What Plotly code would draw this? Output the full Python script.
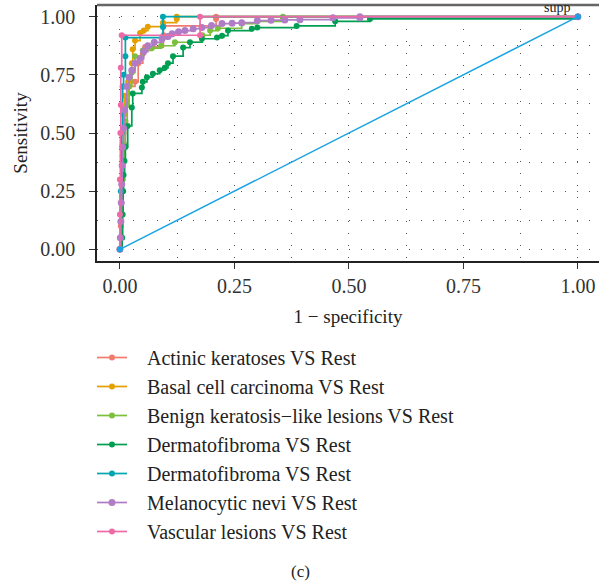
import plotly.graph_objects as go

names = ["Actinic keratoses VS Rest", "Basal cell carcinoma VS Rest",
         "Benign keratosis\u2212like lesions VS Rest", "Dermatofibroma VS Rest",
         "Dermatofibroma VS Rest", "Melanocytic nevi VS Rest", "Vascular lesions VS Rest"]
colors = ["#F27B6E", "#E69F00", "#7CBF3C", "#009E52", "#00A6B0", "#B07CC6", "#EE6AA7"]

ak_fpr = [0, 0.002, 0.004, 0.006, 0.008, 0.01, 0.015, 0.02, 0.033, 0.04, 0.05, 0.055, 0.095, 0.095, 0.21, 0.21, 1.0]
ak_tpr = [0, 0.1, 0.25, 0.4, 0.5, 0.58, 0.64, 0.7, 0.72, 0.8, 0.84, 0.87, 0.92, 0.96, 0.99, 1.0, 1.0]

bcc_fpr = [0, 0.002, 0.004, 0.006, 0.008, 0.011, 0.018, 0.026, 0.028, 0.033, 0.044, 0.052, 0.061, 0.094, 0.124, 0.124, 1.0]
bcc_tpr = [0, 0.15, 0.3, 0.45, 0.58, 0.66, 0.72, 0.80, 0.86, 0.897, 0.93, 0.94, 0.957, 0.974, 0.99, 1.0, 1.0]

bkl_fpr = [0, 0.003, 0.006, 0.01, 0.012, 0.016, 0.02, 0.026, 0.033, 0.05, 0.07, 0.09, 0.12, 0.18, 0.197, 0.214, 0.266, 0.30, 0.356, 0.356, 1.0]
bkl_tpr = [0, 0.15, 0.3, 0.45, 0.55, 0.62, 0.7, 0.76, 0.83, 0.855, 0.865, 0.875, 0.89, 0.92, 0.94, 0.95, 0.97, 0.98, 0.995, 1.0, 1.0]

df_fpr = [0, 0.005, 0.006, 0.007, 0.008, 0.01, 0.012, 0.017, 0.026, 0.028, 0.048, 0.05, 0.059, 0.072, 0.087,
          0.098, 0.105, 0.116, 0.138, 0.153, 0.179, 0.212, 0.223, 0.236, 0.288, 0.30, 0.386, 0.47, 0.546, 1.0]
df_tpr = [0, 0.05, 0.15, 0.25, 0.32, 0.38, 0.44, 0.53, 0.61, 0.67, 0.695, 0.72, 0.74, 0.755, 0.77,
          0.78, 0.80, 0.83, 0.867, 0.89, 0.905, 0.91, 0.918, 0.94, 0.948, 0.953, 0.96, 0.98, 0.99, 1.0]

df2_fpr = [0, 0.002, 0.004, 0.006, 0.008, 0.012, 0.012, 0.094, 0.094, 1.0]
df2_tpr = [0, 0.25, 0.5, 0.7, 0.75, 0.83, 0.91, 0.955, 1.0, 1.0]

nv_fpr = [0, 0.001, 0.002, 0.003, 0.004, 0.005, 0.006, 0.008, 0.01, 0.015, 0.02, 0.026, 0.033, 0.044, 0.052,
          0.061, 0.075, 0.092, 0.105, 0.114, 0.128, 0.142, 0.16, 0.179, 0.2, 0.223, 0.245, 0.266, 0.30, 0.33,
          0.36, 0.393, 0.465, 0.524, 0.524, 1.0]
nv_tpr = [0, 0.05, 0.12, 0.2, 0.28, 0.36, 0.44, 0.52, 0.6, 0.7, 0.74, 0.77, 0.80, 0.82, 0.85,
          0.875, 0.89, 0.905, 0.915, 0.927, 0.935, 0.94, 0.948, 0.953, 0.962, 0.97, 0.972, 0.974, 0.983, 0.985,
          0.986, 0.987, 0.995, 0.995, 1.0, 1.0]

vasc_fpr = [0, 0, 0, 0.001, 0.002, 0.002, 0.004, 0.175, 0.175, 1.0]
vasc_tpr = [0, 0.15, 0.3, 0.5, 0.62, 0.78, 0.92, 0.92, 1.0, 1.0]

diag_x = [0, 1]
diag_y = [0, 1]

tick_vals = [0, 0.25, 0.5, 0.75, 1.0]
tick_text = ["0.00", "0.25", "0.50", "0.75", "1.00"]
minor_vals = [0.125, 0.375, 0.625, 0.875]

series = [(ak_fpr, ak_tpr), (bcc_fpr, bcc_tpr), (bkl_fpr, bkl_tpr), (df_fpr, df_tpr),
          (df2_fpr, df2_tpr), (nv_fpr, nv_tpr), (vasc_fpr, vasc_tpr)]

FONT = "Liberation Serif"
fig = go.Figure()
for i, ((fx, ty), nm, col) in enumerate(zip(series, names, colors)):
    fig.add_trace(go.Scatter(
        x=fx, y=ty, name="\u00a0\u00a0\u00a0" + nm, mode="lines+markers",
        line=dict(color=col, width=1.7, shape="hv"),
        marker=dict(color=col, size=6 if i != 5 else 7), legendgroup=f"g{i}"))

fig.add_trace(go.Scatter(x=diag_x, y=diag_y, mode="lines+markers", showlegend=False,
                         line=dict(color="#1AA3E3", width=1.5), marker=dict(color="#1AA3E3", size=6)))

common = dict(ticks="outside", ticklen=6, tickwidth=1.3, tickcolor="#333",
              showline=True, linecolor="#222", linewidth=1.5, zeroline=False, automargin=False,
              showgrid=True, gridcolor="#555", gridwidth=1.3, griddash="1px 11px",
              minor=dict(tickvals=minor_vals, showgrid=True, gridcolor="#555",
                         gridwidth=1.3, griddash="1px 11px", ticklen=0),
              tickfont=dict(size=20, family=FONT, color="#333"))
fig.update_xaxes(range=[-0.05, 1.046], tickvals=tick_vals, ticktext=tick_text, ticklabelstandoff=0,
                 title=dict(text="1 \u2212 specificity", font=dict(size=19, family=FONT, color="#222"), standoff=14),
                 **common)
fig.update_yaxes(range=[-0.05, 1.05], tickvals=tick_vals, ticktext=tick_text, ticklabelstandoff=10,
                 title=dict(text="Sensitivity", font=dict(size=19, family=FONT, color="#222"), standoff=8),
                 **common)

fig.add_shape(type="line", xref="paper", yref="paper", x0=0, x1=1, y0=1, y1=1,
              line=dict(color="#666", width=2.5))
fig.add_annotation(x=0.955, y=1.0, xref="x", yref="y", text="supp", showarrow=False,
                   yanchor="bottom", font=dict(size=14, family=FONT, color="#222"))
fig.add_annotation(x=(300 - 97) / 502, y=(261 - 583) / 256, xref="paper", yref="paper", text="(c)",
                   showarrow=False, font=dict(size=17, family=FONT, color="#222"))

fig.update_layout(
    width=599, height=584, margin=dict(l=97, r=0, t=5, b=323),
    plot_bgcolor="white", paper_bgcolor="white",
    legend=dict(x=-0.01, y=(261 - 338) / 256, xanchor="left", yanchor="top",
                font=dict(size=20, family=FONT, color="#222"), tracegroupgap=0,
                bgcolor="rgba(0,0,0,0)"),
)
fig.write_html("out.html", config={"displayModeBar": False},
               post_script="document.body.style.margin='0';document.body.style.overflow='hidden';")
